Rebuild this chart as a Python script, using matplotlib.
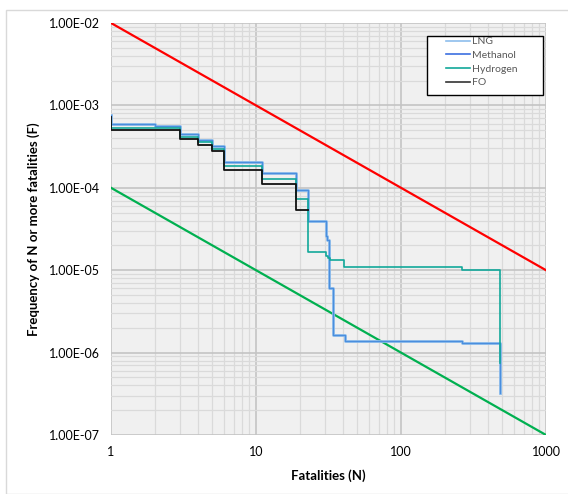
import numpy as np
import matplotlib.pyplot as plt
from matplotlib.patches import Rectangle
from matplotlib.ticker import LogLocator, FixedLocator, NullFormatter

plt.rcParams['font.family'] = ['Lato', 'DejaVu Sans']

# F-N curves (steps-post)
lng_n = [1, 1, 2, 3, 4, 5, 6, 11, 19, 23, 30.3, 31.0, 31.8, 32.0, 34.1, 41.1, 262, 482, 482]
lng_f = [7.6e-4, 5.9e-4, 5.6e-4, 4.45e-4, 3.8e-4, 3.23e-4, 2.08e-4, 1.53e-4, 9.5e-5, 3.9e-5,
         2.6e-5, 2.3e-5, 1.78e-5, 6.1e-6, 1.65e-6, 1.38e-6, 1.3e-6, 3.25e-7, 3.25e-7]
meth_n = lng_n
meth_f = lng_f
h2_n = [1, 1, 3, 4, 5, 6, 11, 19, 23, 30.4, 31.5, 32.5, 40.5, 262, 482, 482]
h2_f = [6.8e-4, 5.35e-4, 4.16e-4, 3.55e-4, 2.94e-4, 1.83e-4, 1.28e-4, 7.3e-5, 1.68e-5,
        1.5e-5, 1.4e-5, 1.33e-5, 1.08e-5, 1.0e-5, 7.5e-7, 7.5e-7]
fo_n = [1, 1, 3, 4, 5, 6, 11, 19, 23]
fo_f = [7.2e-4, 5.0e-4, 3.86e-4, 3.29e-4, 2.78e-4, 1.66e-4, 1.1e-4, 5.45e-5, 5.45e-5]

# criteria lines
crit_n = [1, 1000]
upper_f = [1e-2, 1e-5]
lower_f = [1e-4, 1e-7]

fig = plt.figure(figsize=(5.68, 4.94), dpi=100)
fig.patches.append(Rectangle((6 / 568, 0), 1, 1 - 10 / 494, transform=fig.transFigure,
                             fill=False, edgecolor='#d9d9d9', linewidth=1))
ax = fig.add_axes([111 / 568, 1 - 435 / 494, 435 / 568, 412 / 494])
ax.set_facecolor('#f0f0f0')
ax.set_xscale('log')
ax.set_yscale('log')
ax.set_xlim(1, 1000)
ax.set_ylim(1e-7, 1e-2)

ax.plot(crit_n, upper_f, color='#ff0000', lw=1.6)
ax.plot(crit_n, lower_f, color='#00b050', lw=1.6)
ax.plot(lng_n, lng_f, drawstyle='steps-post', color='#8dbdec', lw=2.0, label='LNG')
ax.plot(meth_n, meth_f, drawstyle='steps-post', color='#4a8ede', lw=0.9, label='Methanol')
ax.plot(h2_n, h2_f, drawstyle='steps-post', color='#12a89a', lw=1.2, label='Hydrogen')
ax.plot(fo_n, fo_f, drawstyle='steps-post', color='#111111', lw=1.3, label='FO')

ax.xaxis.set_major_locator(FixedLocator([1, 10, 100, 1000]))
ax.set_xticklabels(['1', '10', '100', '1000'])
ax.xaxis.set_minor_locator(LogLocator(base=10, subs=np.arange(2, 10)))
ax.xaxis.set_minor_formatter(NullFormatter())
yt = [1e-7, 1e-6, 1e-5, 1e-4, 1e-3, 1e-2]
ax.yaxis.set_major_locator(FixedLocator(yt))
ax.set_yticklabels(['1.00E-07', '1.00E-06', '1.00E-05', '1.00E-04', '1.00E-03', '1.00E-02'])
ax.yaxis.set_minor_locator(LogLocator(base=10, subs=np.arange(2, 10)))
ax.yaxis.set_minor_formatter(NullFormatter())

ax.grid(True, which='major', color='#c4c4c4', lw=1.2)
ax.grid(True, which='minor', color='#dadada', lw=0.9)
ax.set_axisbelow(True)
for s in ax.spines.values():
    s.set_visible(False)
ax.tick_params(which='both', length=0, labelsize=9, colors='#000000', pad=8)

ax.set_xlabel('Fatalities (N)', fontsize=9.5, fontweight='bold', labelpad=8)
ax.set_ylabel('Frequency of N or more fatalities (F)', fontsize=9.5, fontweight='bold', labelpad=6)

# legend box drawn separately so it can be wider than its entries
ax.add_patch(Rectangle((0.7264, 0.825), 0.2666, 0.143, transform=ax.transAxes,
                       facecolor='#ffffff', edgecolor='#000000', lw=1.0, zorder=4.5))
leg = ax.legend(loc='upper left', bbox_to_anchor=(0.77, 0.966), fontsize=7.5, frameon=False,
                handlelength=2.3, handletextpad=0.2, borderpad=0, labelspacing=0.42,
                borderaxespad=0)
leg.set_zorder(5)
for t in leg.get_texts():
    t.set_color('#595959')
for h, c in zip(leg.get_lines(), ['#8dbdec', '#3c6fe0', '#12a89a', '#333333']):
    h.set_color(c)
    h.set_linewidth(1.2)

fig.savefig('out.png', dpi=100)
